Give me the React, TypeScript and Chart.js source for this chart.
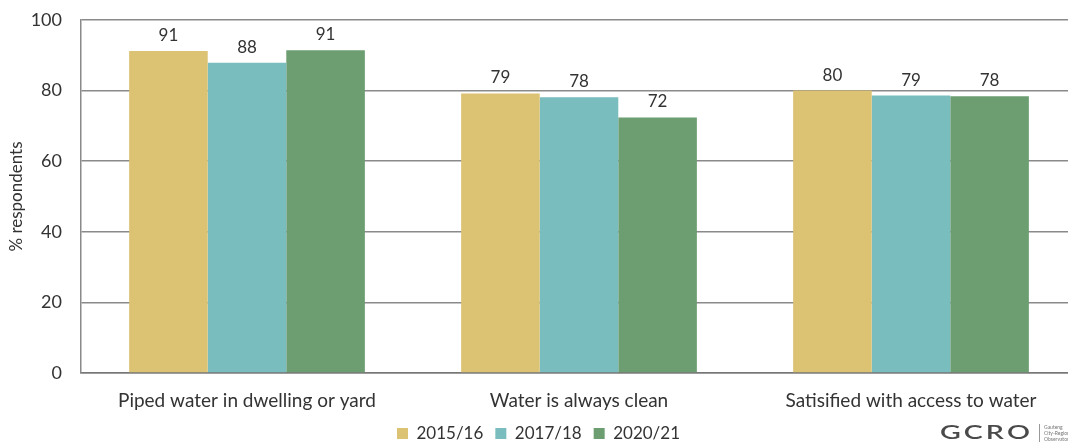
import React, { useEffect, useRef } from "react";
import { Chart, registerables } from "chart.js";

Chart.register(...registerables);

const categories = [
  "Piped water in dwelling or yard",
  "Water is always clean",
  "Satisified with access to water",
];
const seriesNames = ["2015/16", "2017/18", "2020/21"];
const values2015 = [91.2, 79.2, 80.0];
const values2017 = [87.9, 78.1, 78.6];
const values2020 = [91.4, 72.4, 78.4];
const yTicks = [0, 20, 40, 60, 80, 100];
const colors = ["#DCC273", "#7ABDBE", "#6C9E72"];

const FONT = "Lato, 'Open Sans', sans-serif";
const TEXT = "#333333";
const GRID = "#8a8a8a";

const valueLabels = {
  id: "valueLabels",
  afterDatasetsDraw(chart: any) {
    const ctx = chart.ctx;
    ctx.save();
    ctx.font = `17px ${FONT}`;
    ctx.fillStyle = TEXT;
    ctx.textAlign = "center";
    ctx.textBaseline = "alphabetic";
    chart.data.datasets.forEach((ds: any, i: number) => {
      const meta = chart.getDatasetMeta(i);
      meta.data.forEach((bar: any, j: number) => {
        ctx.fillText(String(Math.round(ds.data[j])), bar.x, bar.y - 10);
      });
    });
    ctx.restore();
  },
};

const logo = {
  id: "logo",
  afterDraw(chart: any) {
    const ctx = chart.ctx;
    ctx.save();
    ctx.fillStyle = "#4a4a4a";
    ctx.font = `600 22px ${FONT}`;
    ctx.textBaseline = "middle";
    ctx.textAlign = "left";
    const txt = "GCRO";
    let x = 940;
    for (const ch of txt) {
      ctx.save();
      ctx.translate(x, 433);
      ctx.scale(1.3, 0.85);
      ctx.fillText(ch, 0, 0);
      ctx.restore();
      x += ctx.measureText(ch).width * 1.3 + 3;
    }
    ctx.strokeStyle = "#999";
    ctx.lineWidth = 1;
    ctx.beginPath();
    ctx.moveTo(1039.5, 424);
    ctx.lineTo(1039.5, 442);
    ctx.stroke();
    ctx.font = `5px ${FONT}`;
    ctx.fillStyle = "#777";
    ctx.fillText("Gauteng", 1044, 427);
    ctx.fillText("City-Region", 1044, 433);
    ctx.fillText("Observatory", 1044, 439);
    ctx.restore();
  },
};

export default function App() {
  const ref = useRef<HTMLCanvasElement | null>(null);
  useEffect(() => {
    if (!ref.current) return;
    const chart = new Chart(ref.current, {
      type: "bar",
      data: {
        labels: categories,
        datasets: [values2015, values2017, values2020].map((d, i) => ({
          label: seriesNames[i],
          data: d,
          backgroundColor: colors[i],
          borderWidth: 0,
          categoryPercentage: 0.71,
          barPercentage: 1.0,
        })),
      },
      options: {
        animation: false,
        responsive: true,
        maintainAspectRatio: false,
        layout: { padding: { top: 20, right: 0, bottom: -7, left: 0 } },
        plugins: {
          legend: {
            position: "bottom",
            labels: {
              font: { family: FONT, size: 17 },
              color: TEXT,
              boxWidth: 11,
              boxHeight: 11,
              padding: 12,
            },
          },
          tooltip: { enabled: false },
        },
        scales: {
          x: {
            grid: { display: false, drawTicks: false },
            border: { display: true, color: "#777", width: 1.5 },
            ticks: {
              font: { family: FONT, size: 19 },
              color: TEXT,
              padding: 16,
              maxRotation: 0,
            },
            afterFit: (scale: any) => {
              scale.height = 40;
              scale.paddingLeft = 0;
              scale.paddingRight = 0;
            },
          },
          y: {
            min: 0,
            max: 100,
            afterBuildTicks: (scale: any) => {
              scale.ticks = yTicks.map((v) => ({ value: v }));
            },
            afterFit: (scale: any) => {
              scale.width = 81;
              scale.paddingTop = 0;
              scale.paddingBottom = 0;
            },
            grid: { color: GRID, lineWidth: 1.5, drawTicks: false },
            border: { display: true, color: GRID, width: 1.5 },
            ticks: {
              font: { family: FONT, size: 18 },
              color: TEXT,
              padding: 19,
            },
            title: {
              display: true,
              text: "% respondents",
              font: { family: FONT, size: 17 },
              color: TEXT,
              padding: { top: 6, bottom: 0 },
            },
          },
        },
      },
      plugins: [valueLabels, logo],
    });
    return () => chart.destroy();
  }, []);
  return (
    <div
      style={{
        position: "absolute",
        left: 0,
        top: 0,
        width: 1068,
        height: 445,
        overflow: "hidden",
        background: "#fff",
      }}
    >
      <div style={{ width: 1077, height: 445, position: "relative" }}>
        <canvas ref={ref} />
      </div>
    </div>
  );
}
